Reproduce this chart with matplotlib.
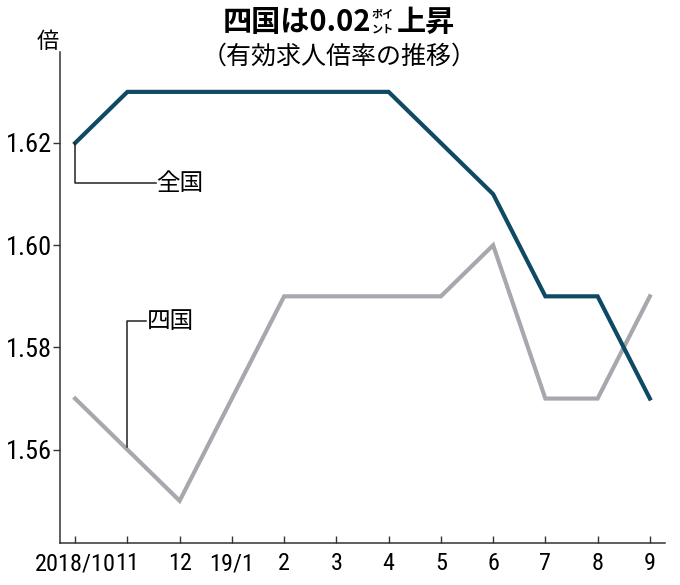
import matplotlib
matplotlib.use("Agg")
import matplotlib.pyplot as plt
from matplotlib import font_manager

months = ["2018/10", "11", "12", "19/1", "2", "3", "4", "5", "6", "7", "8", "9"]
zenkoku = [1.62, 1.63, 1.63, 1.63, 1.63, 1.63, 1.63, 1.62, 1.61, 1.59, 1.59, 1.57]
shikoku = [1.57, 1.56, 1.55, 1.57, 1.59, 1.59, 1.59, 1.59, 1.60, 1.57, 1.57, 1.59]
yticks = [1.56, 1.58, 1.60, 1.62]

JP = ["Noto Sans CJK JP", "DejaVu Sans"]
names = {f.name for f in font_manager.fontManager.ttflist}
narrow = [n for n in ["Liberation Sans Narrow", "Roboto Condensed", "Open Sans Condensed"]
          if n in names]
NUM = narrow[0] if narrow else "Liberation Sans"
XSIZE, YSIZE = (17.5, 19) if narrow else (15.5, 16)

W, H = 680, 585
fig = plt.figure(figsize=(W / 100, H / 100), dpi=100)
ax = fig.add_axes([60 / W, 1 - 542.7 / H, (665 - 60) / W, (542.7 - 52) / H])

x = list(range(len(months)))
ax.plot(x, zenkoku, color="#0e4a63", lw=3.0, solid_joinstyle="miter", zorder=3)
ax.plot(x, shikoku, color="#a9a7ae", lw=3.0, solid_joinstyle="miter", zorder=2)

ax.set_xlim(-0.29, 11.29)
ax.set_ylim(1.5418, 1.6378)

for s in ["top", "right"]:
    ax.spines[s].set_visible(False)
for s in ["left", "bottom"]:
    ax.spines[s].set_color("#333333")
    ax.spines[s].set_linewidth(1.1)

ax.set_xticks(x)
ax.set_xticklabels(months, fontfamily=NUM, fontsize=XSIZE)
ax.set_yticks(yticks)
ax.set_yticklabels([f"{v:.2f}" for v in yticks], fontfamily=NUM, fontsize=YSIZE)
ax.tick_params(axis="x", direction="in", length=5, width=1, color="#333333", pad=7)
ax.tick_params(axis="y", direction="out", length=5, width=1, color="#333333", pad=1)

# leader lines and labels
lc = "#222222"
ax.plot([0, 0, 1.54], [1.62, 1.6121, 1.6121], color=lc, lw=1.1, zorder=4)
ax.text(1.56, 1.6121, "全国", family=JP, fontsize=17, va="center", ha="left")
ax.plot([1, 1, 1.35], [1.5605, 1.5851, 1.5851], color=lc, lw=1.1, zorder=4)
ax.text(1.37, 1.5851, "四国", family=JP, fontsize=17, va="center", ha="left")

fig.text(48 / W, 1 - 42 / H, "倍", family=JP, fontsize=16, ha="center", va="center")

# title
fig.text(371 / W, 1 - 22 / H, "四国は0.02", family=JP, fontsize=21, fontweight="bold",
         ha="right", va="center")
fig.text(383 / W, 1 - 14 / H, "ポイ", family=JP, fontsize=8, fontweight="bold",
         ha="center", va="center")
fig.text(383 / W, 1 - 29 / H, "ント", family=JP, fontsize=8, fontweight="bold",
         ha="center", va="center")
fig.text(397 / W, 1 - 22 / H, "上昇", family=JP, fontsize=21, fontweight="bold",
         ha="left", va="center")
fig.text(339 / W, 1 - 57 / H, "（有効求人倍率の推移）", family=JP, fontsize=18,
         ha="center", va="center")

fig.savefig("out.png", dpi=100)
